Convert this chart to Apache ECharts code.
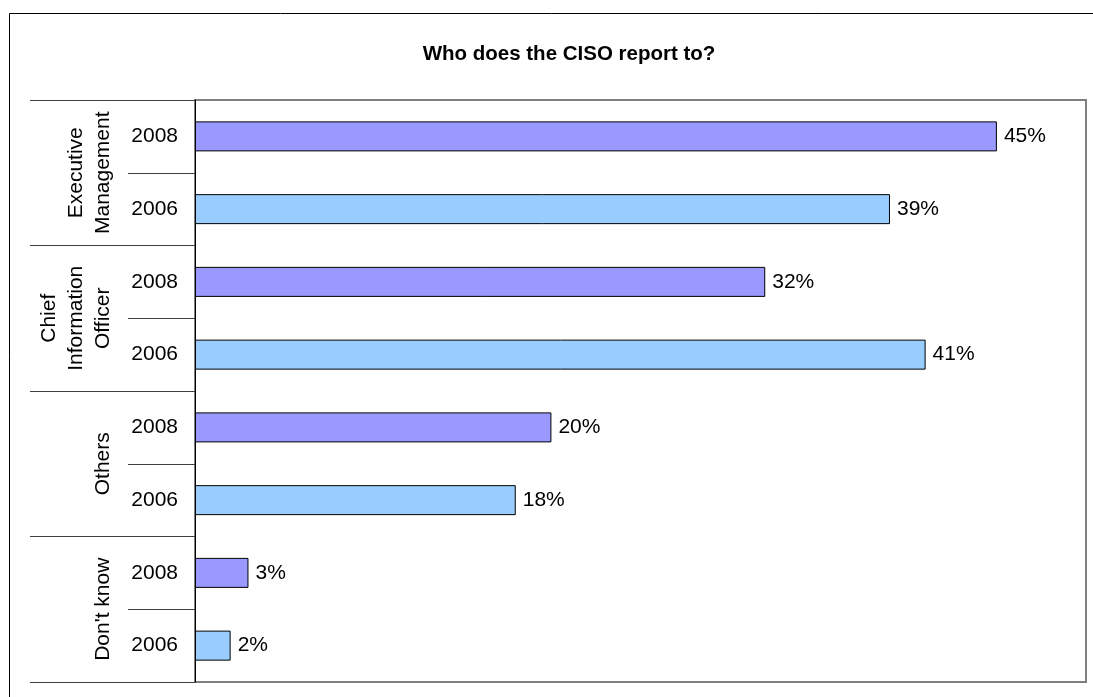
<!DOCTYPE html>
<html>
<head>
<meta charset="utf-8">
<title>Who does the CISO report to?</title>
<script src="https://cdn.jsdelivr.net/npm/echarts@6/dist/echarts.min.js"></script>
<style>
  html, body { margin: 0; padding: 0; background: #fff; }
  #chart { width: 1093px; height: 697px; }
</style>
</head>
<body>
<div id="chart"></div>
<script>
// Reporting line of the CISO, survey years 2008 and 2006 (percent of respondents)
const groups = ['Executive\nManagement', 'Chief\nInformation\nOfficer', 'Others', "Don't know"];
const years = ['2008', '2006'];
const share2008 = [45, 32, 20, 3];
const share2006 = [39, 41, 18, 2];

const yearColors = { '2008': '#9999FF', '2006': '#99CCFF' };
const FONT = "'Liberation Sans', Arial, sans-serif";

// One row per group/year pair, top to bottom
const rowLabels = [];
const rowValues = [];
groups.forEach(function (g, i) {
  rowLabels.push(years[0]);
  rowValues.push({ value: share2008[i], itemStyle: { color: yearColors[years[0]] } });
  rowLabels.push(years[1]);
  rowValues.push({ value: share2006[i], itemStyle: { color: yearColors[years[1]] } });
});

const chart = echarts.init(document.getElementById('chart'), null, { renderer: 'canvas' });

chart.setOption({
  animation: false,
  backgroundColor: '#fff',
  textStyle: { fontFamily: FONT },
  title: {
    text: 'Who does the CISO report to?',
    left: 564,
    top: 39,
    textAlign: 'center',
    textStyle: { fontFamily: FONT, fontSize: 20.5, fontWeight: 'bold', color: '#000' }
  },
  graphic: [{
    type: 'rect',
    silent: true,
    shape: { x: 9.5, y: 13.5, width: 1200, height: 800 },
    style: { fill: 'none', stroke: '#000', lineWidth: 1 }
  }],
  grid: {
    left: 195, right: 7, top: 100, bottom: 15,
    show: true, borderColor: '#808080', borderWidth: 2, backgroundColor: 'transparent'
  },
  xAxis: {
    type: 'value', min: 0, max: 50, show: false, splitLine: { show: false }
  },
  yAxis: [{
    type: 'category',
    data: rowLabels,
    inverse: true,
    position: 'left',
    axisLine: { show: true, lineStyle: { color: '#000', width: 1 } },
    axisTick: { show: true, interval: 0, length: 67, lineStyle: { color: '#404040', width: 1 } },
    axisLabel: { interval: 0, margin: 17, fontSize: 21, color: '#000', fontFamily: FONT }
  }, {
    type: 'category',
    data: groups,
    inverse: true,
    position: 'left',
    axisLine: { show: false },
    axisTick: { show: true, interval: 0, length: 165, lineStyle: { color: '#404040', width: 1 } },
    axisLabel: {
      interval: 0, margin: 78, rotate: 90, fontSize: 21, lineHeight: 27,
      color: '#000', fontFamily: FONT
    }
  }],
  series: [{
    type: 'bar',
    yAxisIndex: 0,
    data: rowValues,
    barWidth: 30,
    itemStyle: { borderColor: '#000', borderWidth: 1 },
    label: {
      show: true, position: 'right', distance: 7,
      formatter: '{c}%', fontSize: 21, color: '#000', fontFamily: FONT
    }
  }]
});
</script>
</body>
</html>
